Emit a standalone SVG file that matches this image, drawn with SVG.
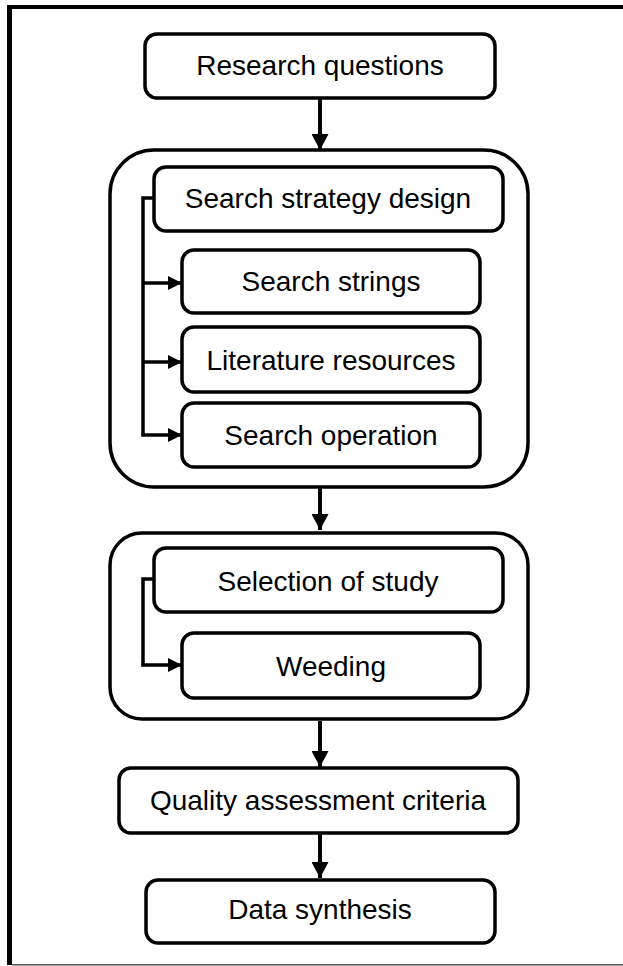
<svg xmlns="http://www.w3.org/2000/svg" width="623" height="966" viewBox="0 0 623 966">
  <defs>
    <marker id="arrV" markerUnits="userSpaceOnUse" markerWidth="16" markerHeight="17" refX="16" refY="8.5" orient="auto">
      <path d="M0,0 L16,8.5 L0,17 z" fill="#000"/>
    </marker>
    <marker id="arrH" markerUnits="userSpaceOnUse" markerWidth="14" markerHeight="14" refX="14" refY="7" orient="auto">
      <path d="M0,0 L14,7 L0,14 z" fill="#000"/>
    </marker>
  </defs>
  <style>
    .box { fill: #fff; stroke: #000; stroke-width: 3.5; }
    .grp { fill: #fff; stroke: #000; stroke-width: 3.5; }
    .lbl { font-family: "Liberation Sans", Arial, sans-serif; font-size: 28px; fill: #000; text-anchor: middle; }
    .conV { fill: none; stroke: #000; stroke-width: 4; }
    .conH { fill: none; stroke: #000; stroke-width: 3.5; }
  </style>
  <rect x="0" y="0" width="623" height="966" fill="#fff"/>
  <g id="frame">
    <rect x="7" y="5" width="616" height="4" fill="#000"/>
    <rect x="7" y="5" width="5" height="960" fill="#000"/>
    <rect x="12" y="964" width="611" height="1.5" fill="#555"/>
  </g>

  <g id="group-search">
    <rect class="grp" x="110" y="150" width="418" height="337" rx="44" ry="44"/>
  </g>
  <g id="group-selection">
    <rect class="grp" x="110" y="533" width="418" height="186" rx="32" ry="32"/>
  </g>

  <g id="node-research">
    <rect class="box" x="145" y="34" width="350" height="64" rx="12" ry="12"/>
    <text class="lbl" x="320" y="75">Research questions</text>
  </g>
  <g id="node-strategy">
    <rect class="box" x="154" y="167" width="349" height="64" rx="12" ry="12"/>
    <text class="lbl" x="328" y="208">Search strategy design</text>
  </g>
  <g id="node-strings">
    <rect class="box" x="182" y="250" width="298" height="63" rx="12" ry="12"/>
    <text class="lbl" x="331" y="291">Search strings</text>
  </g>
  <g id="node-literature">
    <rect class="box" x="182" y="327" width="298" height="65" rx="12" ry="12"/>
    <text class="lbl" x="331" y="370">Literature resources</text>
  </g>
  <g id="node-operation">
    <rect class="box" x="182" y="403" width="298" height="64" rx="12" ry="12"/>
    <text class="lbl" x="331" y="445">Search operation</text>
  </g>
  <g id="node-selection">
    <rect class="box" x="154" y="548" width="349" height="64" rx="12" ry="12"/>
    <text class="lbl" x="328" y="591">Selection of study</text>
  </g>
  <g id="node-weeding">
    <rect class="box" x="182" y="633" width="298" height="65" rx="12" ry="12"/>
    <text class="lbl" x="331" y="676">Weeding</text>
  </g>
  <g id="node-quality">
    <rect class="box" x="119" y="768" width="399" height="65" rx="12" ry="12"/>
    <text class="lbl" x="318" y="810">Quality assessment criteria</text>
  </g>
  <g id="node-synthesis">
    <rect class="box" x="146" y="880" width="349" height="63" rx="12" ry="12"/>
    <text class="lbl" x="320" y="919">Data synthesis</text>
  </g>

  <g id="connectors">
    <line class="conV" x1="320" y1="98" x2="320" y2="150" marker-end="url(#arrV)"/>
    <line class="conV" x1="320" y1="487" x2="320" y2="530" marker-end="url(#arrV)"/>
    <line class="conV" x1="320" y1="721" x2="320" y2="767" marker-end="url(#arrV)"/>
    <line class="conV" x1="320" y1="833" x2="320" y2="878" marker-end="url(#arrV)"/>
    <path class="conH" d="M154,198 H143 V435"/>
    <line class="conH" x1="143" y1="283" x2="182" y2="283" marker-end="url(#arrH)"/>
    <line class="conH" x1="143" y1="362" x2="182" y2="362" marker-end="url(#arrH)"/>
    <line class="conH" x1="141.25" y1="435" x2="182" y2="435" marker-end="url(#arrH)"/>
    <path class="conH" d="M154,579 H143 V665"/>
    <line class="conH" x1="141.25" y1="665" x2="182" y2="665" marker-end="url(#arrH)"/>
  </g>
</svg>
